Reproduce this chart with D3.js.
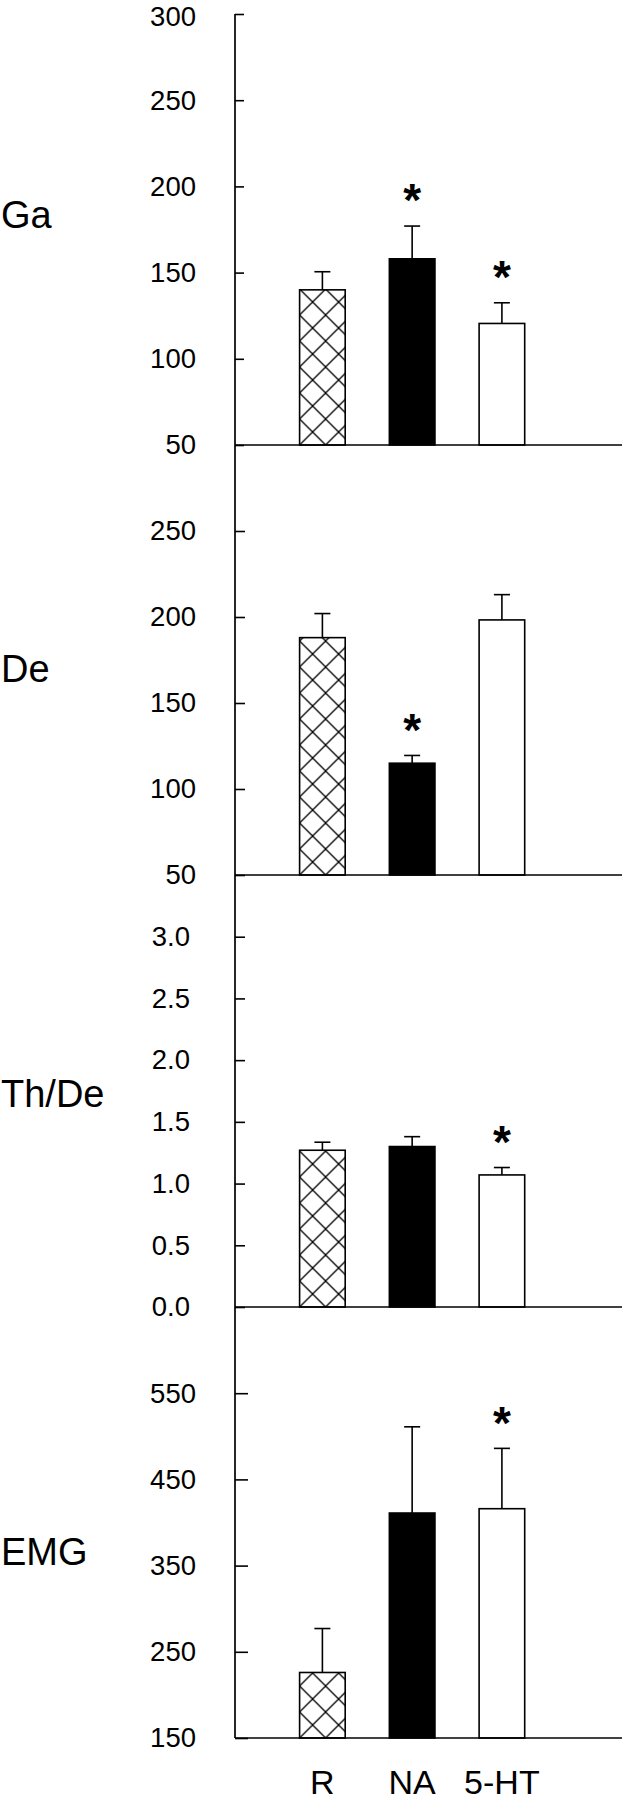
<!DOCTYPE html>
<html>
<head>
<meta charset="utf-8">
<script src="https://cdn.jsdelivr.net/npm/d3@7/dist/d3.min.js"></script>
<style>
  html, body { margin: 0; padding: 0; background: #fff; }
  svg { display: block; }
  text { font-family: "Liberation Sans", Arial, Helvetica, sans-serif; fill: #000; }
</style>
</head>
<body>
<script>
// ---- data ----
const categories = ["R", "NA", "5-HT"];

const gaMean = [140, 158, 120.5];
const gaSem  = [10.5, 19, 12];
const gaSig  = [false, true, true];
const gaTicks = [50, 100, 150, 200, 250, 300];
const gaDomain = [50, 300];

const deMean = [188, 115, 198.3];
const deSem  = [14, 4.5, 14.7];
const deSig  = [false, true, false];
const deTicks = [50, 100, 150, 200, 250];
const deDomain = [50, 300];

const thdeMean = [1.27, 1.30, 1.07];
const thdeSem  = [0.065, 0.08, 0.06];
const thdeSig  = [false, false, true];
const thdeTicks = [0, 0.5, 1.0, 1.5, 2.0, 2.5, 3.0];
const thdeDomain = [0, 3.5];

const emgMean = [226, 411, 416];
const emgSem  = [51, 100, 70];
const emgSig  = [false, false, true];
const emgTicks = [150, 250, 350, 450, 550];
const emgDomain = [150, 650];

const panelNames = ["Ga", "De", "Th/De", "EMG"];

// ---- layout ----
const W = 624, H = 1800;
const axisX = 235, rightX = 622;
const panels = [
  { name: panelNames[0], mean: gaMean, sem: gaSem, sig: gaSig, ticks: gaTicks, domain: gaDomain,
    top: 14, bottom: 445, fmt: d3.format("d"), pad: 39, tick: 9, labelY: 228 },
  { name: panelNames[1], mean: deMean, sem: deSem, sig: deSig, ticks: deTicks, domain: deDomain,
    top: 445, bottom: 875, fmt: d3.format("d"), pad: 39, tick: 10, labelY: 682 },
  { name: panelNames[2], mean: thdeMean, sem: thdeSem, sig: thdeSig, ticks: thdeTicks, domain: thdeDomain,
    top: 875, bottom: 1307, fmt: d3.format(".1f"), pad: 45, tick: 10, labelY: 1107 },
  { name: panelNames[3], mean: emgMean, sem: emgSem, sig: emgSig, ticks: emgTicks, domain: emgDomain,
    top: 1307, bottom: 1738, fmt: d3.format("d"), pad: 39, tick: 13, labelY: 1565 }
];

const svg = d3.select("body").append("svg").attr("width", W).attr("height", H);
svg.append("rect").attr("width", W).attr("height", H).attr("fill", "#fff");
const defs = svg.append("defs");

const x = d3.scaleBand().domain(categories).range([299.6, 524.7]).paddingInner(0.492).paddingOuter(0);
const bw = x.bandwidth();
const hatchP = 26;
const capHalf = 8;
const starSize = 46;
const tickFont = 27.5;

panels.forEach((p, i) => {
  const y = d3.scaleLinear().domain(p.domain).range([p.bottom, p.top]);

  // cross-hatch pattern anchored at the R bar's bottom-left corner
  const pat = defs.append("pattern")
    .attr("id", "hatch" + i)
    .attr("patternUnits", "userSpaceOnUse")
    .attr("x", x("R")).attr("y", p.bottom)
    .attr("width", hatchP).attr("height", hatchP);
  pat.append("rect").attr("width", hatchP).attr("height", hatchP).attr("fill", "#fff");
  pat.append("path")
    .attr("d", `M0,0L${hatchP},${hatchP}M${hatchP},0L0,${hatchP}`)
    .attr("stroke", "#000").attr("stroke-width", 1.3).attr("fill", "none");

  const fills = ["url(#hatch" + i + ")", "#000", "#fff"];
  const rows = categories.map((c, j) => ({ c, m: p.mean[j], s: p.sem[j], sig: p.sig[j], fill: fills[j] }));

  const g = svg.append("g");

  // error bars (upper whisker only)
  g.selectAll(".err").data(rows).join("line")
    .attr("x1", d => x(d.c) + bw / 2).attr("x2", d => x(d.c) + bw / 2)
    .attr("y1", d => y(d.m)).attr("y2", d => y(d.m + d.s))
    .attr("stroke", "#000").attr("stroke-width", 1.6);
  g.selectAll(".cap").data(rows).join("line")
    .attr("x1", d => x(d.c) + bw / 2 - capHalf).attr("x2", d => x(d.c) + bw / 2 + capHalf)
    .attr("y1", d => y(d.m + d.s)).attr("y2", d => y(d.m + d.s))
    .attr("stroke", "#000").attr("stroke-width", 1.6);

  // bars
  g.selectAll(".bar").data(rows).join("rect")
    .attr("x", d => x(d.c)).attr("width", bw)
    .attr("y", d => y(d.m)).attr("height", d => p.bottom - y(d.m))
    .attr("fill", d => d.fill)
    .attr("stroke", "#000").attr("stroke-width", 1.6);

  // significance asterisks
  g.selectAll(".star").data(rows.filter(d => d.sig)).join("text")
    .attr("x", d => x(d.c) + bw / 2)
    .attr("y", d => y(d.m + d.s) - 36 + 0.57 * starSize)
    .attr("text-anchor", "middle")
    .attr("font-size", starSize).attr("font-weight", "bold")
    .text("*");

  // y axis ticks / labels
  const ax = svg.append("g").attr("transform", `translate(${axisX},0)`)
    .call(d3.axisLeft(y).tickValues(p.ticks).tickFormat(p.fmt)
      .tickSizeInner(-p.tick).tickSizeOuter(0).tickPadding(p.pad));
  ax.select(".domain").remove();
  ax.selectAll(".tick line").attr("stroke", "#000").attr("stroke-width", 1.6);
  ax.selectAll(".tick text").attr("font-size", tickFont).attr("fill", "#000")
    .attr("font-family", "Liberation Sans, Arial, sans-serif");
  // keep the topmost label fully inside the page
  ax.selectAll(".tick text")
    .filter(d => y(d) < 20)
    .attr("dy", null)
    .attr("y", 0)
    .attr("transform", `translate(0, ${0.92 * tickFont - 14 + 0.5})`);

  // baseline
  svg.append("line")
    .attr("x1", axisX).attr("x2", rightX)
    .attr("y1", p.bottom).attr("y2", p.bottom)
    .attr("stroke", "#000").attr("stroke-width", 1.7);

  // panel label
  svg.append("text")
    .attr("x", 1).attr("y", p.labelY)
    .attr("font-size", 38)
    .text(p.name);
});

// continuous vertical axis line
svg.append("line")
  .attr("x1", axisX).attr("x2", axisX)
  .attr("y1", panels[0].top).attr("y2", panels[panels.length - 1].bottom)
  .attr("stroke", "#000").attr("stroke-width", 1.7);

// category labels
const xa = svg.append("g").attr("transform", `translate(0,${panels[3].bottom})`)
  .call(d3.axisBottom(x).tickSize(0).tickPadding(32));
xa.select(".domain").remove();
xa.selectAll(".tick text").attr("font-size", 34).attr("fill", "#000")
  .attr("font-family", "Liberation Sans, Arial, sans-serif");
</script>
</body>
</html>
